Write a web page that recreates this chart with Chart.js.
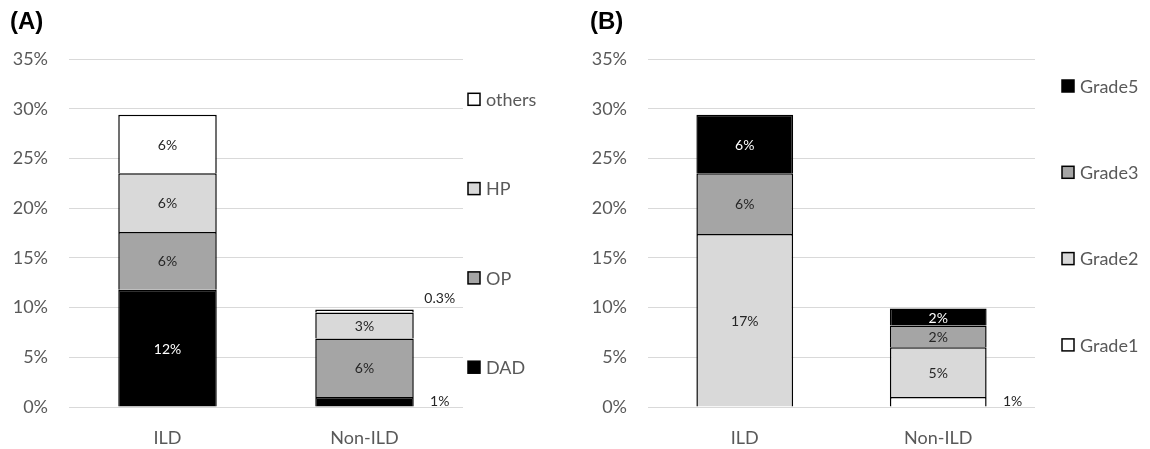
<!DOCTYPE html>
<html>
<head>
<meta charset="utf-8">
<script src="https://cdn.jsdelivr.net/npm/chart.js@4.4.1/dist/chart.umd.min.js"></script>
<style>
  html, body { margin: 0; padding: 0; background: #ffffff; }
  #wrap { position: relative; width: 1150px; height: 449px; overflow: hidden; }
  canvas { position: absolute; top: 0; }
  #cA { left: 0; }
  #cB { left: 579px; }
</style>
</head>
<body>
<div id="wrap">
  <canvas id="cA" width="579" height="449"></canvas>
  <canvas id="cB" width="571" height="449"></canvas>
</div>
<script>
// Categories shared by both panels
const groups = ['ILD', 'Non-ILD'];

// Panel A: pattern of pneumonitis (% of patients)
const dadA = [11.8, 1.0];
const opA = [5.8, 5.9];
const hpA = [5.9, 2.6];
const othersA = [5.9, 0.3];

// Panel B: pneumonitis grade (% of patients)
const grade1B = [0, 1.0];
const grade2B = [17.4, 5.0];
const grade3B = [6.1, 2.2];
const grade5B = [5.9, 1.7];

// Value axis ticks (%)
const yTicks = [0, 5, 10, 15, 20, 25, 30, 35];

const BLACK = '#000000';
const DARK = '#a5a5a5';
const LIGHT = '#d9d9d9';
const WHITE = '#ffffff';
const FONT = 'Lato';

function pct(v) {
  return v < 1 ? v.toFixed(1) + '%' : Math.round(v) + '%';
}

// Value labels: inside each segment, small ones beside the bar
const segmentLabels = {
  id: 'segmentLabels',
  afterDatasetsDraw(chart) {
    const ctx = chart.ctx;
    const n = chart.data.datasets.length;
    ctx.save();
    ctx.font = '14px ' + FONT;
    ctx.textAlign = 'center';
    ctx.textBaseline = 'middle';
    chart.data.datasets.forEach((ds, i) => {
      const meta = chart.getDatasetMeta(i);
      meta.data.forEach((bar, j) => {
        const v = ds.data[j];
        if (!v) return;
        const p = bar.getProps(['x', 'y', 'base', 'width'], true);
        const text = pct(v);
        if (v < 1.5) {
          ctx.fillStyle = '#262626';
          const ty = (i === n - 1) ? p.y - 11 : (p.y + p.base) / 2;
          ctx.fillText(text, p.x + p.width / 2 + 26, ty);
        } else {
          ctx.fillStyle = ds.backgroundColor === BLACK ? '#ffffff' : '#262626';
          ctx.fillText(text, p.x, (p.y + p.base) / 2 + 1);
        }
      });
    });
    ctx.restore();
  }
};

// Key drawn as a tall column beside the plot, top series first
const sideKey = {
  id: 'sideKey',
  afterDraw(chart, args, opts) {
    const ctx = chart.ctx;
    const items = chart.data.datasets.map(d => ({ label: d.label, fill: d.backgroundColor })).reverse();
    ctx.save();
    ctx.font = '18px ' + FONT;
    ctx.textAlign = 'left';
    ctx.textBaseline = 'middle';
    items.forEach((it, k) => {
      const cy = opts.top + k * opts.gap;
      ctx.fillStyle = it.fill;
      ctx.fillRect(opts.x, cy - 6, 12, 12);
      ctx.strokeStyle = '#000000';
      ctx.lineWidth = 1.5;
      ctx.strokeRect(opts.x, cy - 6, 12, 12);
      ctx.fillStyle = '#595959';
      ctx.fillText(it.label, opts.x + 18, cy + 1);
    });
    ctx.restore();
  }
};

function series(label, data, color) {
  return {
    label: label,
    data: data,
    backgroundColor: color,
    borderColor: '#000000',
    borderWidth: 1.5,
    barPercentage: 0.5,
    categoryPercentage: 1.0
  };
}

function makeChart(id, title, datasets, pad, key) {
  return new Chart(document.getElementById(id), {
    type: 'bar',
    data: { labels: groups, datasets: datasets },
    plugins: [segmentLabels, sideKey],
    options: {
      responsive: false,
      animation: false,
      layout: { padding: pad },
      plugins: {
        legend: { display: false },
        tooltip: { enabled: false },
        title: {
          display: true,
          text: title,
          align: 'start',
          color: '#000000',
          font: { family: 'Liberation Sans', weight: 'bold', size: 24 },
          padding: { top: 7.6, bottom: 22.6 }
        },
        sideKey: key
      },
      scales: {
        x: {
          stacked: true,
          grid: { display: false, drawTicks: false },
          border: { display: false },
          afterFit: s => { s.height = 42; },
          ticks: { color: '#595959', font: { family: FONT, size: 18 }, padding: 20 }
        },
        y: {
          stacked: true,
          min: 0,
          max: 35,
          afterBuildTicks: s => { s.ticks = yTicks.map(v => ({ value: v })); },
          afterFit: s => { s.width = 69 - pad.left; },
          ticks: {
            color: '#595959',
            font: { family: FONT, size: 18 },
            padding: 21,
            callback: v => v + '%'
          },
          grid: { color: '#d9d9d9', lineWidth: 1, drawTicks: false },
          border: { display: false }
        }
      }
    }
  });
}

makeChart('cA', '(A)', [
  series('DAD', dadA, BLACK),
  series('OP', opA, DARK),
  series('HP', hpA, LIGHT),
  series('others', othersA, WHITE)
], { left: 10, right: 116, top: 0, bottom: 0 }, { x: 468, top: 99.3, gap: 89.3 });

makeChart('cB', '(B)', [
  series('Grade1', grade1B, WHITE),
  series('Grade2', grade2B, LIGHT),
  series('Grade3', grade3B, DARK),
  series('Grade5', grade5B, BLACK)
], { left: 11, right: 115, top: 0, bottom: 0 }, { x: 483, top: 86, gap: 86.3 });
</script>
</body>
</html>
